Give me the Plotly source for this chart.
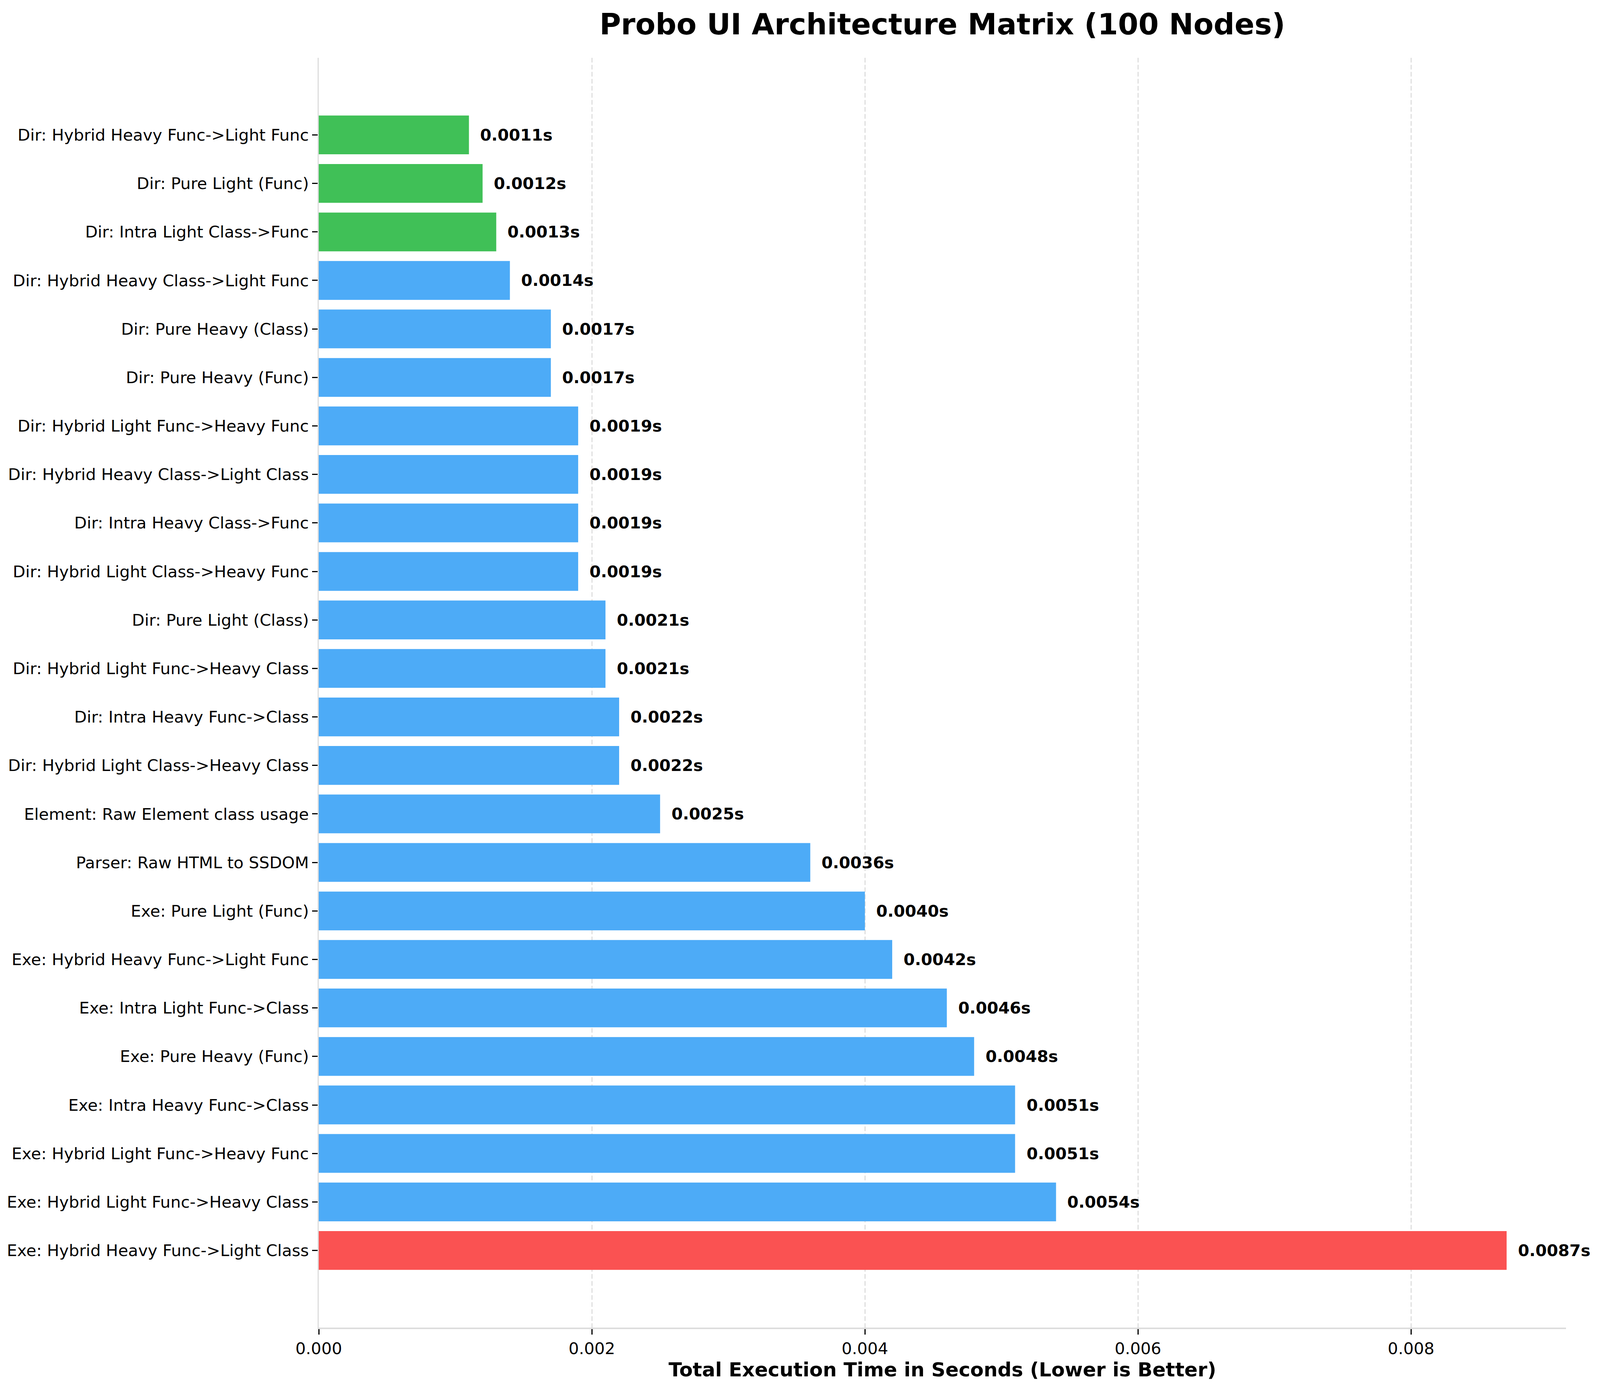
import plotly.graph_objects as go

categories = [
    "Dir: Hybrid Heavy Func->Light Func",
    "Dir: Pure Light (Func)",
    "Dir: Intra Light Class->Func",
    "Dir: Hybrid Heavy Class->Light Func",
    "Dir: Pure Heavy (Class)",
    "Dir: Pure Heavy (Func)",
    "Dir: Hybrid Light Func->Heavy Func",
    "Dir: Hybrid Heavy Class->Light Class",
    "Dir: Intra Heavy Class->Func",
    "Dir: Hybrid Light Class->Heavy Func",
    "Dir: Pure Light (Class)",
    "Dir: Hybrid Light Func->Heavy Class",
    "Dir: Intra Heavy Func->Class",
    "Dir: Hybrid Light Class->Heavy Class",
    "Element: Raw Element class usage",
    "Parser: Raw HTML to SSDOM",
    "Exe: Pure Light (Func)",
    "Exe: Hybrid Heavy Func->Light Func",
    "Exe: Intra Light Func->Class",
    "Exe: Pure Heavy (Func)",
    "Exe: Intra Heavy Func->Class",
    "Exe: Hybrid Light Func->Heavy Func",
    "Exe: Hybrid Light Func->Heavy Class",
    "Exe: Hybrid Heavy Func->Light Class",
]
times = [
    0.0011, 0.0012, 0.0013, 0.0014, 0.0017, 0.0017, 0.0019, 0.0019,
    0.0019, 0.0019, 0.0021, 0.0021, 0.0022, 0.0022, 0.0025, 0.0036,
    0.0040, 0.0042, 0.0046, 0.0048, 0.0051, 0.0051, 0.0054, 0.0087,
]
# colour groups: top 3 fastest green, slowest red, rest blue
groups = ["fast"] * 3 + ["mid"] * 20 + ["slow"]
group_colors = {"fast": "#40c057", "mid": "#4dabf7", "slow": "#fa5252"}
x_ticks = [0.000, 0.002, 0.004, 0.006, 0.008]

FONT = "DejaVu Sans"
# keep the whole figure inside the captured area
W, H = 4080, 3548
L, R, T, B = 808, 79, 140, 157

n = len(categories)
ymargin = 0.05 * (n - 1 + 0.8)
xmax = max(times) * 1.05

fig = go.Figure(
    go.Bar(
        x=times,
        y=categories,
        orientation="h",
        width=0.8,
        marker=dict(color=[group_colors[g] for g in groups], line=dict(width=0)),
        hoverinfo="skip",
    )
)

for c, v in zip(categories, times):
    fig.add_annotation(
        x=v, y=c, xref="x", yref="y",
        text=f"<b>{v:.4f}s</b>",
        showarrow=False, xanchor="left", yanchor="middle",
        xshift=27,
        font=dict(family=FONT, size=41.7, color="black"),
    )

fig.update_layout(
    width=W, height=H,
    margin=dict(l=L, r=R, t=T, b=B, autoexpand=False),
    paper_bgcolor="white", plot_bgcolor="white",
    showlegend=False,
    font=dict(family=FONT, color="black"),
    title=dict(
        text="<b>Probo UI Architecture Matrix (100 Nodes)</b>",
        x=0.5, xref="paper", xanchor="center",
        y=1 - 54 / H, yref="container", yanchor="middle",
        font=dict(family=FONT, size=75, color="black"),
    ),
)

fig.update_xaxes(
    range=[0, xmax],
    tickvals=x_ticks,
    ticktext=[f"{t:.3f}" for t in x_ticks],
    tickfont=dict(family=FONT, size=41.7, color="black"),
    ticks="outside", ticklen=14, tickwidth=3, tickcolor="black",
    showline=True, linecolor="#dddddd", linewidth=4,
    showgrid=True, gridcolor="rgba(176,176,176,0.4)", gridwidth=3,
    griddash="12px,6px",
    layer="above traces",
    zeroline=False,
    title=dict(
        text="<b>Total Execution Time in Seconds (Lower is Better)</b>",
        font=dict(family=FONT, size=50, color="black"),
        standoff=14,
    ),
)

fig.update_yaxes(
    type="category",
    categoryorder="array",
    categoryarray=categories,
    range=[n - 1 + 0.4 + ymargin, -0.4 - ymargin],
    tickfont=dict(family=FONT, size=41.7, color="black"),
    ticks="outside", ticklen=14, tickwidth=3, tickcolor="black",
    showline=True, linecolor="#dddddd", linewidth=3,
    showgrid=False, zeroline=False,
)

fig.write_html("out.html")
